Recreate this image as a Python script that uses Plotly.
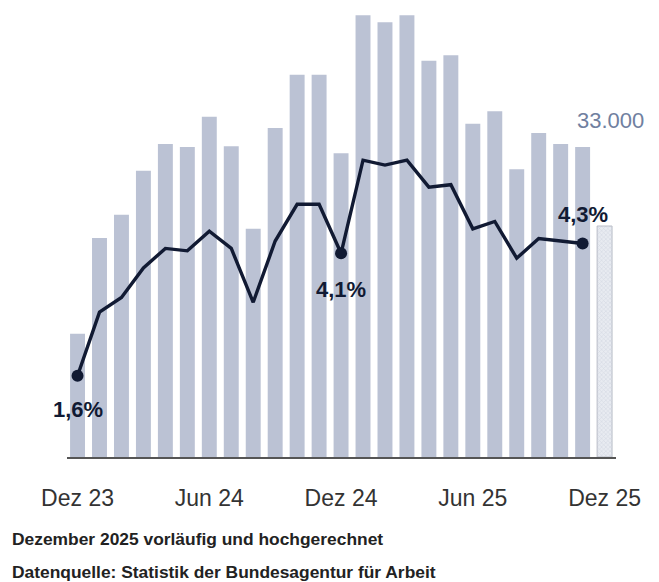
import plotly.graph_objects as go

# Monthly categories Dez 23 .. Dez 25
months = ["Dez 23", "Jan 24", "Feb 24", "Mär 24", "Apr 24", "Mai 24", "Jun 24",
          "Jul 24", "Aug 24", "Sep 24", "Okt 24", "Nov 24", "Dez 24", "Jan 25",
          "Feb 25", "Mär 25", "Apr 25", "Mai 25", "Jun 25", "Jul 25", "Aug 25",
          "Sep 25", "Okt 25", "Nov 25", "Dez 25"]

# Bar values (counts), last one preliminary / projected
bar_values = [17600, 31300, 34600, 40900, 44700, 44300, 48600, 44400, 32600,
              47000, 54600, 54600, 43400, 63100, 62100, 63100, 56600, 57400,
              47600, 49400, 41100, 46300, 44700, 44300]
projected_value = 33000

# Line values (percent), Dez 23 .. Nov 25
line_values = [1.6, 2.9, 3.2, 3.8, 4.2, 4.15, 4.55, 4.2, 3.1, 4.35, 5.1, 5.1,
               4.1, 6.0, 5.9, 6.0, 5.45, 5.5, 4.6, 4.75, 4.0, 4.4, 4.35, 4.3]

tick_idx = [0, 6, 12, 18, 24]
tick_text = ["Dez 23", "Jun 24", "Dez 24", "Jun 25", "Dez 25"]

marker_idx = [0, 12, 23]
marker_text = ["1,6%", "4,1%", "4,3%"]
marker_yshift = [-34, -36, 29]

footer1 = "Dezember 2025 vorläufig und hochgerechnet"
footer2 = "Datenquelle: Statistik der Bundesagentur für Arbeit"

x_all = list(range(len(months)))
x_bars = x_all[:len(bar_values)]
x_line = x_all[:len(line_values)]

BAR = "rgb(187,194,212)"
NAVY = "#111a33"
FONT = "Liberation Sans, Arial, sans-serif"

fig = go.Figure()
fig.add_trace(go.Bar(x=x_bars, y=bar_values, width=0.68,
                     marker=dict(color=BAR, line=dict(width=0)),
                     hoverinfo="skip"))
fig.add_trace(go.Bar(x=[x_all[-1]], y=[projected_value], width=0.68,
                     marker=dict(color="#e4e7ee",
                                 line=dict(color="#b9bdc7", width=1),
                                 pattern=dict(shape="x", fgcolor="#bfc5d2",
                                              bgcolor="#e8ebf1", size=3,
                                              solidity=0.35)),
                     hoverinfo="skip"))
fig.add_trace(go.Scatter(x=x_line, y=line_values, yaxis="y2", mode="lines",
                         line=dict(color=NAVY, width=3.4), hoverinfo="skip"))
fig.add_trace(go.Scatter(x=[x_line[i] for i in marker_idx],
                         y=[line_values[i] for i in marker_idx], yaxis="y2",
                         mode="markers", marker=dict(color=NAVY, size=12),
                         hoverinfo="skip"))

for i, t, ys in zip(marker_idx, marker_text, marker_yshift):
    fig.add_annotation(x=x_line[i], y=line_values[i], yref="y2", text=t,
                       showarrow=False, yshift=ys,
                       font=dict(family=FONT, size=22, color=NAVY, weight="bold"))

fig.add_annotation(x=x_all[-1], y=projected_value, yref="y",
                   text=f"{projected_value:,}".replace(",", "."),
                   showarrow=False, xanchor="right", xshift=41, yshift=106,
                   font=dict(family=FONT, size=22, color="#7080a0"))

fig.add_annotation(xref="paper", yref="paper", x=-0.1045, y=-0.183,
                   xanchor="left", yanchor="middle", text=footer1,
                   showarrow=False,
                   font=dict(family=FONT, size=17.4, color="#222222", weight="bold"))
fig.add_annotation(xref="paper", yref="paper", x=-0.1045, y=-0.257,
                   xanchor="left", yanchor="middle", text=footer2,
                   showarrow=False,
                   font=dict(family=FONT, size=17.4, color="#222222", weight="bold"))

px_per_unit = 231 / projected_value
fig.update_layout(
    width=659, height=582,
    margin=dict(l=59, r=51, t=2, b=133),
    paper_bgcolor="white", plot_bgcolor="white",
    barmode="overlay", showlegend=False,
    xaxis=dict(range=[-0.48, 24.52], tickvals=tick_idx, ticktext=tick_text,
               showgrid=False, zeroline=False, showline=True,
               linecolor="#555555", linewidth=2, ticks="outside", ticklen=19,
               tickcolor="rgba(0,0,0,0)",
               tickfont=dict(family=FONT, size=23, color="#333333")),
    yaxis=dict(range=[0, 447 / px_per_unit], visible=False, showgrid=False),
    yaxis2=dict(range=[-0.057, 9.065], overlaying="y", visible=False,
                showgrid=False),
)

fig.write_html("out.html")
